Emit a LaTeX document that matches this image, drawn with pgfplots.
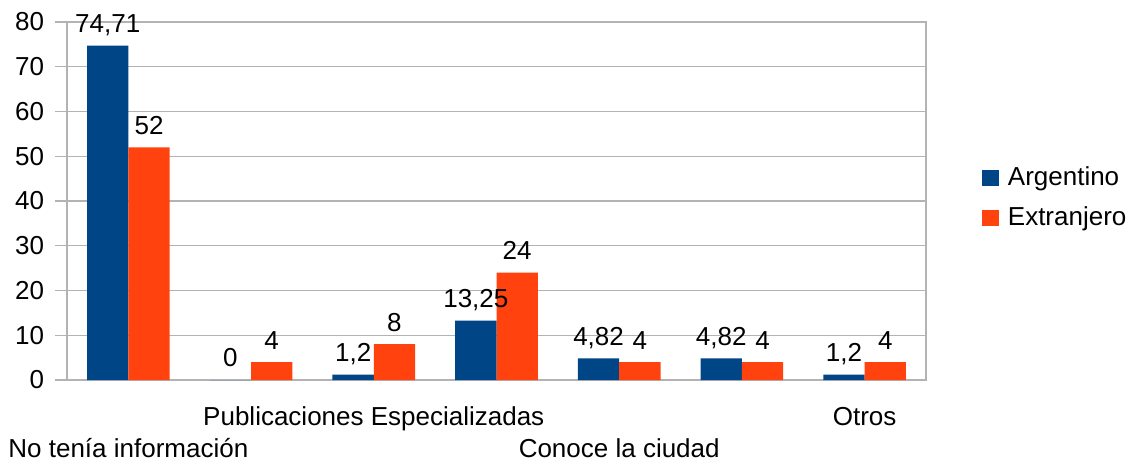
\documentclass[border=0pt]{standalone}
\usepackage{fontspec}
\setmainfont{Liberation Sans}
\usepackage{pgfplots}
\pgfplotsset{compat=1.18}
\definecolor{argblue}{HTML}{004586}
\definecolor{extorange}{HTML}{FF420E}
\definecolor{gridgray}{HTML}{B3B3B3}
\begin{document}
\fontsize{26}{31}\selectfont
\begin{tikzpicture}
\useasboundingbox (0,0) rectangle (1128pt,461pt);
\begin{axis}[
  at={(67pt,81pt)}, anchor=south west,
  scale only axis, width=859pt, height=358pt,
  ybar, bar width=41.3pt, ybar=0pt,
  xmin=-0.5, xmax=6.5, ymin=0, ymax=80,
  ytick={0,10,...,80},
  ymajorgrids, major grid style={gridgray, line width=1.2pt},
  axis line style={gridgray, line width=1.2pt},
  tick align=outside, tick pos=left,
  major tick length=12pt,
  ytick style={gridgray, line width=1.2pt},
  xtick={2,6}, xticklabels={Publicaciones Especializadas, Otros},
  xtick style={draw=none},
  minor xtick={-0.5,0.5,...,6.5},
  minor tick length=11pt,
  minor x tick style={gridgray, line width=1.2pt},
  extra x ticks={0,4},
  extra x tick labels={No tenía información, Conoce la ciudad},
  extra x tick style={xticklabel style={yshift=-32pt}, tick style={draw=none}},
  xticklabel style={anchor=base, yshift=-33pt},
  yticklabel style={anchor=east, xshift=-2pt},
  /pgf/number format/assume math mode=true,
  /pgf/number format/use comma,
  /pgf/number format/1000 sep={},
  nodes near coords,
  nodes near coords style={anchor=base, inner sep=0pt, yshift=13pt},
  legend style={draw=none, fill=none, inner sep=0pt,
    at={(axis description cs:1.0652,0.505)}, anchor=west,
    row sep=17pt,
    nodes={inner sep=0pt, text height=18pt, text depth=5pt},
    /tikz/every odd column/.append style={column sep=9pt}},
  legend cell align=left,
  legend image code/.code={\fill[#1] (0pt,-7.2pt) rectangle (16.7pt,9.5pt);},
]
\addplot[fill=argblue, draw=none] coordinates {(0,74.71) (1,0) (2,1.2) (3,13.25) (4,4.82) (5,4.82) (6,1.2)};
\addplot[fill=extorange, draw=none] coordinates {(0,52) (1,4) (2,8) (3,24) (4,4) (5,4) (6,4)};
\legend{Argentino, Extranjero}
\end{axis}
\end{tikzpicture}
\end{document}
